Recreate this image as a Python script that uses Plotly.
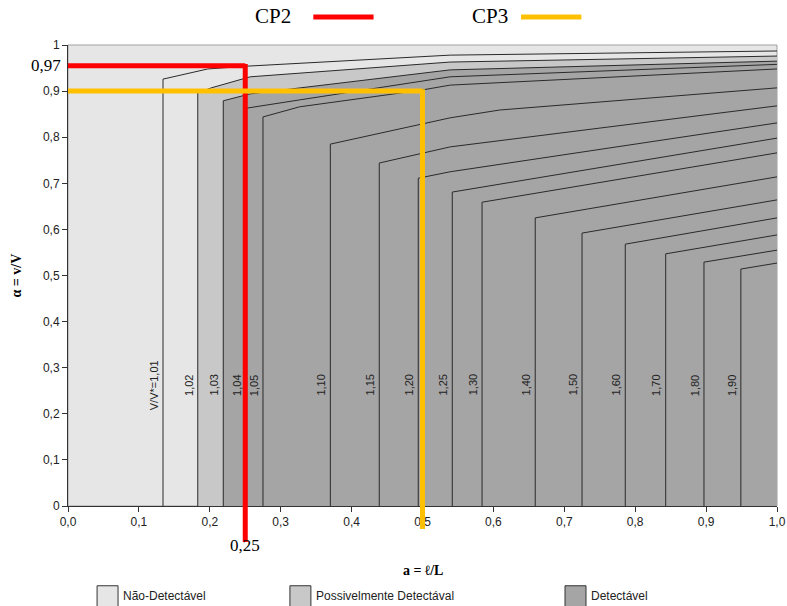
import plotly.graph_objects as go

# ---- data ----
levels = [1.01, 1.02, 1.03, 1.04, 1.05, 1.10, 1.15, 1.20, 1.25, 1.30,
          1.40, 1.50, 1.60, 1.70, 1.80, 1.90]
level_labels = ["V/V*=1,01", "1,02", "1,03", "1,04", "1,05", "1,10", "1,15",
                "1,20", "1,25", "1,30", "1,40", "1,50", "1,60", "1,70",
                "1,80", "1,90"]
# a where each iso-line is vertical, and alpha at which it bends
a_vertical = [0.134, 0.183, 0.219, 0.252, 0.275, 0.370, 0.439, 0.494, 0.542,
              0.584, 0.659, 0.725, 0.786, 0.843, 0.897, 0.949]
alpha_corner = [0.926, 0.896, 0.879, 0.863, 0.844, 0.785, 0.744, 0.711, 0.681,
                0.659, 0.625, 0.592, 0.568, 0.547, 0.529, 0.514]
# points along the upper branch of each iso-line (after the corner)
upper_a = [
    [0.197, 0.251, 0.539, 1.0],
    [0.202, 0.257, 0.539, 1.0],
    [0.257, 0.539, 1.0],
    [0.327, 0.539, 1.0],
    [0.327, 0.498, 0.539, 1.0],
    [0.539, 0.609, 1.0],
    [0.539, 1.0],
    [0.539, 1.0],
    [1.0], [1.0], [1.0], [1.0], [1.0], [1.0], [1.0], [1.0],
]
upper_alpha = [
    [0.948, 0.954, 0.978, 0.987],
    [0.907, 0.931, 0.963, 0.976],
    [0.894, 0.946, 0.965],
    [0.881, 0.931, 0.958],
    [0.866, 0.902, 0.913, 0.948],
    [0.842, 0.859, 0.907],
    [0.779, 0.868],
    [0.725, 0.831],
    [0.798], [0.766], [0.714], [0.664], [0.625], [0.588], [0.555], [0.527],
]

band_names = ["Não-Detectável", "Possivelmente Detectával", "Detectável"]
band_colors = ["#e6e6e6", "#c8c8c8", "#a5a5a5"]
band_start_level = [None, 1.02, 1.03]

x_ticks = [0.0, 0.1, 0.2, 0.3, 0.4, 0.5, 0.6, 0.7, 0.8, 0.9, 1.0]
x_ticktext = ["0,0", "0,1", "0,2", "0,3", "0,4", "0,5", "0,6", "0,7", "0,8", "0,9", "1,0"]
y_ticks = [0, 0.1, 0.2, 0.3, 0.4, 0.5, 0.6, 0.7, 0.8, 0.9, 1.0]
y_ticktext = ["0", "0,1", "0,2", "0,3", "0,4", "0,5", "0,6", "0,7", "0,8", "0,9", "1"]

cp_names = ["CP2", "CP3"]
cp_a = [0.25, 0.50]
cp_alpha = [0.955, 0.90]
cp_alpha_label = ["0,97", None]
cp_a_label = ["0,25", None]
cp_colors = ["#ff0000", "#ffc000"]
cp_bottom = [-0.078, -0.05]   # how far the marker lines run below the axis

SANS = "Liberation Sans, Arial, sans-serif"
SERIF = "Liberation Serif, Times New Roman, serif"

fig = go.Figure()

# ---- filled bands ----
for name, color, start in zip(band_names, band_colors, band_start_level):
    if start is None:
        continue
    i = levels.index(start)
    xs = [a_vertical[i], a_vertical[i]] + upper_a[i] + [1.0, a_vertical[i]]
    ys = [0, alpha_corner[i]] + upper_alpha[i] + [0, 0]
    fig.add_trace(go.Scatter(x=xs, y=ys, mode="lines", fill="toself",
                             fillcolor=color, line=dict(width=0),
                             showlegend=False, hoverinfo="skip"))

# ---- iso-lines ----
for i, lev in enumerate(levels):
    xs = [a_vertical[i], a_vertical[i]] + upper_a[i]
    ys = [0, alpha_corner[i]] + upper_alpha[i]
    fig.add_trace(go.Scatter(x=xs, y=ys, mode="lines",
                             line=dict(color="#2a2a2a", width=1),
                             showlegend=False, name=level_labels[i]))
    fig.add_annotation(x=a_vertical[i], y=0.262, xref="x", yref="y",
                       text=level_labels[i], textangle=-90, showarrow=False,
                       xanchor="center", yanchor="middle",
                       xshift=-9, font=dict(family=SANS, size=11, color="#222"))

shapes = []
# plot-area frame (top/right light grey)
shapes.append(dict(type="rect", xref="paper", yref="paper", x0=0, y0=0, x1=1, y1=1,
                   line=dict(color="#a0a0a0", width=1), layer="below"))

# ---- CP marker lines ----
for k in range(len(cp_names)):
    c = cp_colors[k]
    shapes.append(dict(type="line", xref="x", yref="paper",
                       x0=0, x1=cp_a[k], y0=cp_alpha[k], y1=cp_alpha[k],
                       line=dict(color=c, width=5), layer="above"))
    shapes.append(dict(type="line", xref="x", yref="paper",
                       x0=cp_a[k], x1=cp_a[k], y0=cp_alpha[k] + 0.004, y1=cp_bottom[k],
                       line=dict(color=c, width=5), layer="above"))

# top key for CP lines
key_text_x = [0.289, 0.595]
key_line_x = [(0.346, 0.431), (0.639, 0.724)]
key_y = 1.063
for k in range(len(cp_names)):
    fig.add_annotation(xref="paper", yref="paper", x=key_text_x[k], y=key_y,
                       text=cp_names[k], showarrow=False, xanchor="center",
                       yanchor="middle", font=dict(family=SERIF, size=21, color="black"))
    shapes.append(dict(type="line", xref="paper", yref="paper",
                       x0=key_line_x[k][0], x1=key_line_x[k][1], y0=key_y - 0.002, y1=key_y - 0.002,
                       line=dict(color=cp_colors[k], width=5)))

# value labels for CP2
fig.add_annotation(xref="paper", yref="y", x=0, y=cp_alpha[0], xshift=-5,
                   text=cp_alpha_label[0], showarrow=False, xanchor="right",
                   yanchor="middle", font=dict(family=SERIF, size=17, color="black"))
fig.add_annotation(xref="x", yref="paper", x=cp_a[0], y=-0.085,
                   text=cp_a_label[0], showarrow=False, xanchor="center",
                   yanchor="middle", font=dict(family=SERIF, size=17, color="black"))

# axis titles
fig.add_annotation(xref="paper", yref="paper", x=0.5, y=-0.139, text="<b>a = ℓ/L</b>",
                   showarrow=False, xanchor="center", yanchor="middle",
                   font=dict(family=SERIF, size=14, color="black"))
fig.add_annotation(xref="paper", yref="paper", x=-0.072, y=0.5, text="<b>α = v/V</b>",
                   textangle=-90, showarrow=False, xanchor="center", yanchor="middle",
                   font=dict(family=SERIF, size=14, color="black"))

# bottom legend
leg_sq_x = [0.041, 0.313, 0.701]
leg_y0, leg_y1 = -0.173, -0.222
for k in range(3):
    x0 = leg_sq_x[k]
    shapes.append(dict(type="rect", xref="paper", yref="paper",
                       x0=x0, x1=x0 + 0.0296, y0=leg_y1, y1=leg_y0,
                       fillcolor=band_colors[k], line=dict(color="#333", width=1)))
    fig.add_annotation(xref="paper", yref="paper", x=x0 + 0.0296, y=-0.196,
                       xshift=3, text=band_names[k], showarrow=False,
                       xanchor="left", yanchor="middle",
                       font=dict(family=SANS, size=12, color="#222"))

fig.update_layout(
    width=787, height=606,
    margin=dict(l=68, r=10, t=45, b=100),
    paper_bgcolor="white", plot_bgcolor=band_colors[0],
    shapes=shapes, showlegend=False,
    xaxis=dict(range=[0, 1], tickvals=x_ticks, ticktext=x_ticktext, automargin=False,
               showgrid=False, zeroline=False, showline=True, linecolor="#333",
               linewidth=1, ticks="outside", ticklen=5, tickcolor="#333",
               tickfont=dict(family=SANS, size=12, color="#222")),
    yaxis=dict(range=[0, 1], tickvals=y_ticks, ticktext=y_ticktext, automargin=False,
               showgrid=False, zeroline=False, showline=True, linecolor="#333",
               linewidth=1, ticks="outside", ticklen=5, tickcolor="#333",
               tickfont=dict(family=SANS, size=12, color="#222")),
)

# remove the default page margin so the 787x606 figure fills the window exactly
fig.write_html("out.html", config={"displayModeBar": False},
               post_script="document.body.style.margin='0';document.body.style.overflow='hidden';")
